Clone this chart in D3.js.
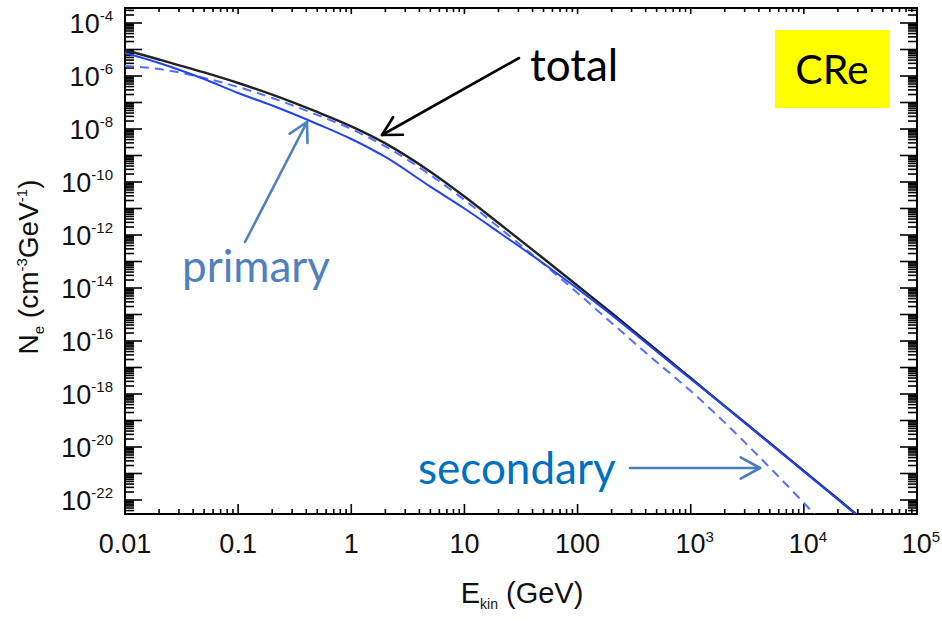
<!DOCTYPE html>
<html>
<head>
<meta charset="utf-8">
<script src="https://cdn.jsdelivr.net/npm/d3@7"></script>
<style>
  html, body { margin: 0; padding: 0; background: #fff; }
  svg { display: block; }
</style>
</head>
<body>
<svg id="chart" width="942" height="620"></svg>
<script>
// ---------------- data ----------------
const energy = [0.01, 0.02, 0.05, 0.1, 0.2, 0.5, 1, 2, 5, 10, 20, 50, 100, 200, 500, 1000, 2000, 5000, 1e4, 2e4, 3e4];
const totalCRe = [9.57e-6, 4.2e-6, 1.36e-6, 5.45e-7, 1.99e-7, 4.39e-8, 1.26e-8, 2.88e-9, 2.45e-10, 2.84e-11, 2.84e-12, 1.30e-13, 1.22e-14, 1.14e-15, 4.57e-17, 4.0e-18, 3.5e-19, 1.42e-20, 1.24e-21, 1.09e-22, 2.58e-23];
const primaryCRe = [7.4e-6, 3.1e-6, 7.7e-7, 2.28e-7, 7.7e-8, 1.55e-8, 4.2e-9, 8.8e-10, 6.65e-11, 1.0e-11, 1.3e-12, 8.4e-14, 9.4e-15, 9.6e-16, 4.0e-17, 3.7e-18, 3.4e-19, 1.36e-20, 1.19e-21, 1.05e-22, 2.5e-23];
const secondaryEnergy = [0.01, 0.02, 0.05, 0.1, 0.2, 0.5, 1, 2, 5, 10, 20, 50, 100, 200, 500, 1000, 2000, 5000, 1e4, 1.3e4];
const secondaryCRe = [2.4e-6, 1.84e-6, 8.4e-7, 3.85e-7, 1.48e-7, 3.4e-8, 1.0e-8, 2.2e-9, 1.84e-10, 2.1e-11, 2.0e-12, 8.0e-14, 6.5e-15, 4.8e-16, 1.6e-17, 1.3e-18, 8.3e-20, 1.67e-21, 7.7e-23, 2.3e-23];

const xTickValues = [0.01, 0.1, 1, 10, 100, 1e3, 1e4, 1e5];
const xTickLabels = [["0.01", ""], ["0.1", ""], ["1", ""], ["10", ""], ["100", ""], ["10", "3"], ["10", "4"], ["10", "5"]];
const yTickExponents = [-4, -6, -8, -10, -12, -14, -16, -18, -20, -22];

// ---------------- layout ----------------
const svg = d3.select("#chart");
const frame = { left: 125, right: 917, top: 8, bottom: 514 };

const x = d3.scaleLog().domain([0.01, 1e5]).range([frame.left, frame.right]);
const y = d3.scaleLog().domain([1e-22, 1e-4]).range([500, 23]);

svg.append("rect").attr("width", 942).attr("height", 620).attr("fill", "#fff");

svg.append("clipPath").attr("id", "clip").append("rect")
  .attr("x", frame.left).attr("y", frame.top)
  .attr("width", frame.right - frame.left).attr("height", frame.bottom - frame.top);

// ---------------- ticks ----------------
const tickG = svg.append("g").attr("stroke", "#000").attr("stroke-width", 1.6);

for (let e = -2; e < 5; e++) {
  for (let k = 1; k <= 9; k++) {
    const px = x(k * Math.pow(10, e));
    const major = k === 1;
    tickG.append("line").attr("x1", px).attr("x2", px)
      .attr("y1", frame.bottom).attr("y2", frame.bottom - (major ? 10 : 5));
    tickG.append("line").attr("x1", px).attr("x2", px)
      .attr("y1", frame.top).attr("y2", frame.top + (major ? 6 : 4));
  }
}
const yTop = y.invert(frame.top), yBot = y.invert(frame.bottom);
for (let e = -24; e <= -3; e++) {
  for (let k = 1; k <= 9; k++) {
    const v = k * Math.pow(10, e);
    if (v > yTop || v < yBot) continue;
    const py = y(v);
    const major = k === 1;
    tickG.append("line").attr("y1", py).attr("y2", py)
      .attr("x1", frame.left).attr("x2", frame.left + (major ? 17 : 9));
    tickG.append("line").attr("y1", py).attr("y2", py)
      .attr("x1", frame.right).attr("x2", frame.right - (major ? 17 : 9));
  }
}

svg.append("rect")
  .attr("x", frame.left).attr("y", frame.top)
  .attr("width", frame.right - frame.left).attr("height", frame.bottom - frame.top)
  .attr("fill", "none").attr("stroke", "#000").attr("stroke-width", 2);

// ---------------- tick labels ----------------
const labelFont = "'Liberation Sans', Arial, Helvetica, sans-serif";
xTickValues.forEach((v, i) => {
  const t = svg.append("text")
    .attr("x", x(v) + (xTickLabels[i][1] ? 4 : 0)).attr("y", 553)
    .attr("text-anchor", "middle")
    .attr("font-family", labelFont).attr("font-size", 27).attr("fill", "#111");
  t.append("tspan").text(xTickLabels[i][0]);
  if (xTickLabels[i][1]) t.append("tspan").attr("dy", -11).attr("font-size", 15).text(xTickLabels[i][1]);
});

yTickExponents.forEach(ex => {
  const py = y(Math.pow(10, ex));
  const t = svg.append("text")
    .attr("x", 113).attr("y", py + 10)
    .attr("text-anchor", "end")
    .attr("font-family", labelFont).attr("font-size", 27).attr("fill", "#111");
  t.append("tspan").text("10");
  t.append("tspan").attr("dy", -12).attr("font-size", 15).text("-" + (-ex));
});

// axis titles
const xt = svg.append("text").attr("x", 522).attr("y", 603).attr("text-anchor", "middle")
  .attr("font-family", labelFont).attr("font-size", 29).attr("fill", "#111");
xt.append("tspan").text("E");
xt.append("tspan").attr("dy", 6).attr("font-size", 14).text("kin");
xt.append("tspan").attr("dy", -6).text(" (GeV)");

const yt = svg.append("text").attr("transform", "translate(38,267) rotate(-90)")
  .attr("text-anchor", "middle")
  .attr("font-family", labelFont).attr("font-size", 28).attr("fill", "#111");
yt.append("tspan").text("N");
yt.append("tspan").attr("dy", 6).attr("font-size", 15).text("e");
yt.append("tspan").attr("dy", -6).text(" (cm");
yt.append("tspan").attr("dy", -11).attr("font-size", 15).text("-3");
yt.append("tspan").attr("dy", 11).text("GeV");
yt.append("tspan").attr("dy", -11).attr("font-size", 15).text("-1");
yt.append("tspan").attr("dy", 11).text(")");

// ---------------- curves ----------------
const line = d3.line().x(d => x(d[0])).y(d => y(d[1])).curve(d3.curveMonotoneX);
const plot = svg.append("g").attr("clip-path", "url(#clip)");

plot.append("path").datum(energy.map((e, i) => [e, totalCRe[i]]))
  .attr("d", line).attr("fill", "none").attr("stroke", "#222").attr("stroke-width", 2.4);
plot.append("path").datum(secondaryEnergy.map((e, i) => [e, secondaryCRe[i]]))
  .attr("d", line).attr("fill", "none").attr("stroke", "#5170ff").attr("stroke-width", 2)
  .attr("stroke-dasharray", "9,6");
plot.append("path").datum(energy.map((e, i) => [e, primaryCRe[i]]))
  .attr("d", line).attr("fill", "none").attr("stroke", "#2244ee").attr("stroke-width", 2);

// ---------------- annotations ----------------
function arrow(x1, y1, x2, y2, color, w, head) {
  const g = svg.append("g").attr("stroke", color).attr("stroke-width", w)
    .attr("fill", "none").attr("stroke-linecap", "round").attr("stroke-linejoin", "round");
  g.append("line").attr("x1", x1).attr("y1", y1).attr("x2", x2).attr("y2", y2);
  const a = Math.atan2(y2 - y1, x2 - x1);
  const spread = 0.5;
  const p1 = [x2 - head * Math.cos(a - spread), y2 - head * Math.sin(a - spread)];
  const p2 = [x2 - head * Math.cos(a + spread), y2 - head * Math.sin(a + spread)];
  g.append("path").attr("d", `M${p1[0]},${p1[1]}L${x2},${y2}L${p2[0]},${p2[1]}`);
}

const annFont = "Lato, 'Open Sans', sans-serif";
svg.append("text").attr("x", 530).attr("y", 81).attr("font-family", annFont)
  .attr("font-size", 44).attr("fill", "#000").text("total");
arrow(519, 58, 382, 135, "#000", 2.6, 21);

svg.append("rect").attr("x", 775).attr("y", 30).attr("width", 115).attr("height", 78).attr("fill", "#ffff00");
svg.append("text").attr("x", 832).attr("y", 84).attr("text-anchor", "middle").attr("font-family", annFont)
  .attr("font-size", 41).attr("fill", "#000").text("CRe");

svg.append("text").attr("x", 182).attr("y", 282).attr("font-family", annFont)
  .attr("font-size", 44).attr("fill", "#4f81bd").text("primary");
arrow(245, 242, 307, 122, "#4f81bd", 2.6, 21);

svg.append("text").attr("x", 418).attr("y", 484).attr("font-family", annFont)
  .attr("font-size", 44).attr("fill", "#0070c0").text("secondary");
arrow(630, 468, 760, 468, "#4a7ebb", 2.6, 22);
</script>
</body>
</html>
